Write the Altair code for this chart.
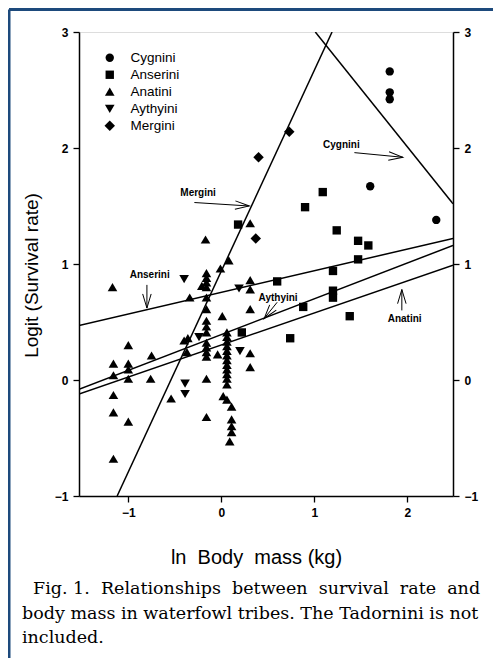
import math
import altair as alt
import pandas as pd

# ---------------- data ----------------
tribes = ["Cygnini", "Anserini", "Anatini", "Aythyini", "Mergini"]
# circle, square, triangle-up, triangle-down, diamond (as unit-space symbol paths)
shapes = ["circle", "square",
          "M0,-1.0L1.15,0.95L-1.15,0.95Z",
          "M0,1.0L1.15,-0.95L-1.15,-0.95Z",
          "M0,-1.25L1.25,0L0,1.25L-1.25,0Z"]

cyg_x = [1.81, 1.81, 1.81, 1.60, 2.31]
cyg_y = [2.66, 2.48, 2.42, 1.67, 1.38]

ans_x = [0.18, 0.90, 1.09, 1.24, 1.47, 1.58, 1.47, 1.20, 0.60, 1.20, 1.20, 0.88, 1.38, 0.74, 0.22]
ans_y = [1.34, 1.49, 1.62, 1.29, 1.20, 1.16, 1.04, 0.94, 0.85, 0.77, 0.71, 0.63, 0.55, 0.36, 0.41]

ana_x = [-1.17, -1.00, -1.16, -1.00, -0.75, -1.16, -1.00, -1.00, -0.76, -1.16, -1.16, -1.00, -1.16, -0.54,
         -0.17, -0.34, -0.40, -0.36, -0.37, -0.16, -0.16, -0.04, -0.21,
         -0.16, -0.16, -0.16, -0.16, -0.16, -0.16, -0.16, -0.16, -0.16, -0.16, -0.16, -0.16, -0.16,
         0.08, -0.01, 0.01, 0.31, 0.31, 0.31, 0.31, 0.31, 0.31,
         0.06, 0.06, 0.06, 0.06, 0.06, 0.06, 0.06, 0.06, 0.06, 0.06, 0.06, 0.06,
         0.02, 0.06, 0.11, 0.11, 0.11, 0.11, 0.09]
ana_y = [0.80, 0.30, 0.14, 0.14, 0.21, 0.04, 0.09, 0.01, 0.01, -0.13, -0.28, -0.36, -0.68, -0.16,
         1.21, 0.71, 0.34, 0.36, 0.24, 0.01, -0.32, 0.22, 0.81,
         0.92, 0.88, 0.84, 0.80, 0.71, 0.61, 0.51, 0.46, 0.41, 0.32, 0.28, 0.24, 0.20,
         1.03, 0.96, 0.55, 1.35, 0.86, 0.78, 0.61, 0.23, 0.11,
         0.41, 0.37, 0.33, 0.29, 0.25, 0.21, 0.17, 0.13, 0.09, 0.05, 0.01, -0.04,
         -0.14, -0.17, -0.23, -0.34, -0.40, -0.45, -0.53]

ayt_x = [-0.40, 0.19, -0.24, 0.20, -0.39, -0.39]
ayt_y = [0.87, 0.79, 0.37, 0.25, -0.03, -0.12]

mer_x = [0.73, 0.40, 0.37]
mer_y = [2.14, 1.92, 1.22]

# regression lines (end points)
line_names = ["Mergini", "Cygnini", "Anserini", "Aythyini", "Anatini"]
line_x1 = [-1.12, 1.01, -1.53, -1.53, -1.53]
line_y1 = [-1.00, 3.00, 0.47, -0.08, -0.12]
line_x2 = [1.19, 2.49, 2.49, 2.49, 2.49]
line_y2 = [3.00, 1.52, 1.22, 1.16, 0.99]

# annotations: label position, arrow tail, arrow head
ann_names = ["Mergini", "Cygnini", "Anserini", "Aythyini", "Anatini"]
ann_tx = [-0.25, 1.29, -0.77, 0.61, 1.97]
ann_ty = [1.61, 2.03, 0.905, 0.71, 0.53]
arr_x1 = [-0.29, 1.43, -0.80, 0.60, 1.94]
arr_y1 = [1.53, 1.96, 0.82, 0.67, 0.60]
arr_x2 = [0.30, 1.95, -0.80, 0.46, 1.94]
arr_y2 = [1.50, 1.92, 0.62, 0.53, 0.78]

NB = "\u00a0"
caption_lines = [
    f"Fig. 1.{NB} Relationships{NB} between{NB} survival{NB} rate{NB} and",
    "body mass in waterfowl tribes. The Tadornini is not",
    "included.",
]
x_title = f"ln{NB} Body{NB} mass (kg)"
y_title = "Logit (Survival rate)"

x_ticks = [-1, 0, 1, 2]
y_ticks = [-1, 0, 1, 2, 3]
x_dom = [-1.53, 2.49]
y_dom = [-1, 3]

# ---------------- tables ----------------
pts = pd.concat([
    pd.DataFrame({"x": cyg_x, "y": cyg_y, "tribe": "Cygnini"}),
    pd.DataFrame({"x": ans_x, "y": ans_y, "tribe": "Anserini"}),
    pd.DataFrame({"x": ana_x, "y": ana_y, "tribe": "Anatini"}),
    pd.DataFrame({"x": ayt_x, "y": ayt_y, "tribe": "Aythyini"}),
    pd.DataFrame({"x": mer_x, "y": mer_y, "tribe": "Mergini"}),
], ignore_index=True)

lines = pd.DataFrame({"name": line_names, "x": line_x1, "y": line_y1, "x2": line_x2, "y2": line_y2})

W, H = 374, 464
sx = W / (x_dom[1] - x_dom[0])
sy = H / (y_dom[1] - y_dom[0])
angles = [(math.degrees(math.atan2(-(b2 - b1) * sy, (a2 - a1) * sx)) + 360) % 360
          for a1, b1, a2, b2 in zip(arr_x1, arr_y1, arr_x2, arr_y2)]
ann = pd.DataFrame({"name": ann_names, "tx": ann_tx, "ty": ann_ty,
                    "x1": arr_x1, "y1": arr_y1, "x2": arr_x2, "y2": arr_y2, "ang": angles})

X = lambda f, **k: alt.X(f, scale=alt.Scale(domain=x_dom, nice=False, zero=False), **k)
Y = lambda f, **k: alt.Y(f, scale=alt.Scale(domain=y_dom, nice=False, zero=False), **k)

axis_style = dict(domainColor="black", domainWidth=1.5, tickColor="black", tickWidth=1.3,
                  tickSize=6, labelFont="Liberation Sans", labelFontSize=12, labelFontWeight="bold",
                  labelColor="black", grid=False)

points = alt.Chart(pts).mark_point(filled=True, color="black", opacity=1, size=70).encode(
    x=X("x:Q", axis=alt.Axis(values=x_ticks, title=x_title, labelPadding=5,
                             titleFont="Liberation Sans", titleFontSize=20, titleFontWeight="normal",
                             titleColor="black", titleX=177, titleY=67, titleBaseline="alphabetic",
                             titleAnchor="middle", **axis_style)),
    y=Y("y:Q", axis=alt.Axis(values=y_ticks, title=y_title, orient="left",
                             labelPadding=5, titleFont="Liberation Sans", titleFontSize=19,
                             titleFontWeight="normal", titleColor="black", titleX=-42, titleY=243,
                             titleBaseline="alphabetic", titleAngle=270, titleAnchor="middle",
                             **axis_style)),
    shape=alt.Shape("tribe:N", scale=alt.Scale(domain=tribes, range=shapes),
                    legend=alt.Legend(orient="none", legendX=24, legendY=19, title=None,
                                      labelFont="Liberation Sans", labelFontSize=13.5,
                                      labelColor="black", symbolSize=70, symbolFillColor="black",
                                      symbolStrokeColor="black", symbolStrokeWidth=0,
                                      rowPadding=2, labelOffset=14, padding=0)),
)

reg = alt.Chart(lines).mark_rule(color="black", strokeWidth=1.5, clip=True).encode(
    x=X("x:Q", axis=None),
    y=Y("y:Q", axis=alt.Axis(values=y_ticks, title=None, orient="right", labelPadding=5,
                             **axis_style)),
    x2="x2:Q", y2="y2:Q",
)

shafts = alt.Chart(ann).mark_rule(color="black", strokeWidth=1).encode(
    x=X("x1:Q", axis=None), y=Y("y1:Q", axis=None), x2="x2:Q", y2="y2:Q")

heads = alt.Chart(ann).mark_point(shape="M-2,-0.6L0,0L-2,0.6", filled=False, color="black",
                                  strokeWidth=1, size=200, opacity=1).encode(
    x=X("x2:Q", axis=None), y=Y("y2:Q", axis=None), angle=alt.Angle("ang:Q", scale=None))

labels = alt.Chart(ann).mark_text(font="Liberation Sans", fontSize=10, fontWeight="bold",
                                  color="black").encode(
    x=X("tx:Q", axis=None), y=Y("ty:Q", axis=None), text="name:N")

caps = []
for txt, xv, yv in zip(caption_lines, [-46, -57, -57], [562, 587, 611]):
    caps.append(alt.Chart(pd.DataFrame({"t": [txt]})).mark_text(
        font="DejaVu Serif", fontSize=17.5, color="black", align="left", baseline="alphabetic"
    ).encode(x=alt.value(xv), y=alt.value(yv), text="t:N"))

border_v = alt.Chart(pd.DataFrame({"k": [0]})).mark_rule(color="#1d4a7c", strokeWidth=3).encode(
    x=alt.value(-70), y=alt.value(-22.5), y2=alt.value(626))
border_h = alt.Chart(pd.DataFrame({"k": [0]})).mark_rule(color="#1d4a7c", strokeWidth=3).encode(
    x=alt.value(-70), x2=alt.value(414), y=alt.value(-22.5))

chart = alt.layer(points, reg, shafts, heads, labels, *caps, border_v, border_h).resolve_axis(
    x="independent", y="independent"
).properties(
    width=W, height=H,
    autosize=alt.AutoSizeParams(type="none"),
    padding={"left": 71, "top": 24, "right": 40, "bottom": 162},
).configure_view(stroke="black", strokeWidth=1.5).configure(background="white")

chart.save("out.html", embed_options={"renderer": "svg", "actions": False})
